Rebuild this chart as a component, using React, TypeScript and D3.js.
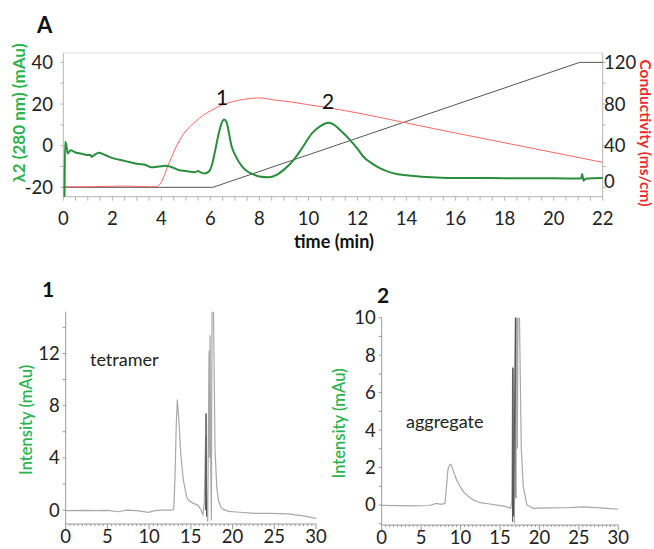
import React from "react";
import * as d3 from "d3";

// top chromatogram (ion exchange run)
const timeTicks = [0, 2, 4, 6, 8, 10, 12, 14, 16, 18, 20, 22];
const uvTicks = [-20, 0, 20, 40];
const condTicks = [0, 40, 80, 120];

// λ2 280 nm trace, mAu
const uvTrace: [number, number][] = [
  [0.05, -24.5], [0.07, 1.9], [0.12, 0.5], [0.18, -3.7], [0.3, -2.2], [0.5, -3.3], [0.8, -4.0],
  [1.0, -4.5], [1.1, -4.4], [1.15, -5.3], [1.25, -4.6], [1.45, -3.4], [1.7, -4.5], [2.05, -6.1],
  [2.5, -7.3], [3.05, -8.8], [3.3, -9.0], [3.6, -10.4], [3.9, -10.0], [4.15, -9.6], [4.4, -10.2],
  [4.7, -11.7], [5.0, -12.2], [5.38, -12.7], [5.5, -12.1], [5.6, -12.8], [5.78, -13.3], [5.95, -12.3],
  [6.06, -9.3], [6.2, -2], [6.35, 6.5], [6.5, 12.0], [6.56, 12.6], [6.65, 11.5], [6.87, -0.5],
  [7.05, -5.5], [7.28, -9.8], [7.5, -12.3], [7.76, -13.8], [8.0, -14.8], [8.37, -15.2], [8.7, -14],
  [9.0, -11.5], [9.39, -6.9], [9.75, -1], [10.14, 5.9], [10.5, 9.5], [10.82, 11.0], [11.05, 10],
  [11.29, 7.5], [11.7, 2.7], [12.0, -1.5], [12.24, -5.3], [12.6, -8.6], [12.93, -10.9], [13.3, -12.7],
  [13.6, -13.6], [14.0, -14.2], [14.3, -14.6], [15.0, -15.2], [15.4, -15.4], [16, -15.5], [17, -15.5],
  [18, -15.6], [19, -15.6], [20, -15.7], [21.0, -15.8], [21.12, -15.6], [21.16, -13.6], [21.22, -16.8],
  [21.3, -15.9], [21.6, -15.6], [22, -15.5],
];

// conductivity, ms/cm
const condTrace: [number, number][] = [
  [0, 0.5], [1, 0.6], [2, 1.0], [2.5, 1.2], [3, 0.9], [3.5, 0.6], [3.8, 0.7], [4.0, 5], [4.15, 13.4],
  [4.42, 29.4], [4.83, 48.6], [5.38, 63], [6.06, 74.2], [6.87, 82.1], [7.4, 84.6], [7.96, 85.9],
  [8.57, 84], [9.25, 82.1], [9.93, 79.6], [10.82, 76.4], [15.37, 55.1], [22, 24],
];

// gradient programme (right axis units)
const gradientTrace: [number, number][] = [[0, 0], [6.1, 0], [21.06, 120], [22, 120]];

// SEC of fraction 1 and 2
const secTimeTicks = [0, 5, 10, 15, 20, 25, 30];
const sec1Ticks = [0, 4, 8, 12];
const sec2Ticks = [0, 2, 4, 6, 8, 10];

const sec1Trace: [number, number][] = [
  [0, -0.05], [2, -0.03], [3.9, -0.05], [5, -0.02], [6.3, -0.13], [7.3, 0], [8.5, -0.05], [9.9, -0.18],
  [10.7, -0.05], [11.5, 0], [12.7, 0], [12.95, 0.05], [13.1, 2.5], [13.25, 6.5], [13.38, 8.47],
  [13.55, 7], [13.8, 4.2], [14.1, 2.3], [14.5, 1.0], [14.7, 0.77], [15.2, 0.55], [15.9, 0.35],
  [16.2, 0], [16.45, -0.35], [16.6, 0.5], [16.78, 5.7], [16.9, 0.5], [17.02, -0.9], [17.18, 12.2],
  [17.24, 4], [17.3, 13.4], [17.38, 4.1], [17.46, -0.8], [17.54, 16], [17.7, 16], [17.9, 4.6],
  [18.1, 1.8], [18.3, 0.77], [18.6, 0.2], [18.9, 0.05], [19.5, -0.1], [20.5, -0.15], [22.7, -0.25],
  [24.5, -0.25], [26.7, -0.3], [28.5, -0.45], [30, -0.64],
];
const sec1Spike: [number, number][] = [[16.76, 0], [16.82, 7.4], [16.88, -0.5]];

const sec2Trace: [number, number][] = [
  [0, -0.02], [2, -0.04], [4, -0.05], [6, -0.03], [6.97, 0.08], [7.3, 0.05], [7.7, 0.05], [8.02, 0.09],
  [8.2, 0.9], [8.4, 1.9], [8.66, 2.17], [8.8, 2.15], [9.1, 1.8], [9.5, 1.33], [10.0, 0.95], [10.34, 0.71],
  [11.0, 0.45], [11.6, 0.27], [12.5, 0.12], [13.7, 0.05], [14.8, -0.02], [15.8, -0.09], [16.35, -0.18],
  [16.5, 0.2], [16.6, 7.38], [16.7, 0.5], [16.82, -0.98], [16.95, 10.5], [17.1, 10.5], [17.2, 3],
  [17.28, 10.5], [17.45, 10.5], [17.7, 3], [17.95, 0.98], [18.4, 0], [19.2, -0.18], [21, -0.16],
  [23.9, -0.14], [25.5, -0.1], [27.2, -0.14], [28.5, -0.18], [30, -0.23],
];
const sec2Spike: [number, number][] = [[16.58, -0.9], [16.64, 7.3], [16.72, -0.6], [16.98, 10.5], [17.02, 0.36]];

const FONT = "Lato, 'Open Sans', sans-serif";
const GREEN_TXT = "#2cb34f";
const RED_TXT = "#ec2a2e";
const AXIS = "#b4b4b4";

function TopChart() {
  const x = d3.scaleLinear().domain([0, 22]).range([63.3, 602.7]);
  const yL = d3.scaleLinear().domain([-24.5, 44.5]).range([196.7, 53]);
  const yR = d3.scaleLinear().domain([-9, 129]).range([196.7, 53]);
  const lineL = d3.line<[number, number]>().x(d => x(d[0])).y(d => yL(d[1])).curve(d3.curveMonotoneX);
  const lineR = d3.line<[number, number]>().x(d => x(d[0])).y(d => yR(d[1])).curve(d3.curveMonotoneX);
  const lineG = d3.line<[number, number]>().x(d => x(d[0])).y(d => yR(d[1]));
  const minorX = d3.range(0, 22.01, 0.5);
  const minorL = d3.range(-20, 41, 10);
  const minorR = d3.range(0, 121, 20);
  const [x0, x1] = x.range();
  const [yb, yt] = yL.range();
  return (
    <g>
      <text x={37} y={33} fontFamily={FONT} fontWeight={700} fontSize={22} fill="#111">A</text>
      <line x1={x0} x2={x1} y1={yt} y2={yt} stroke="#dcdcdc" />
      <line x1={x0} x2={x0} y1={yt} y2={yb} stroke={AXIS} />
      <line x1={x1} x2={x1} y1={yt} y2={yb} stroke={AXIS} />
      <line x1={x0} x2={x1} y1={yb} y2={yb} stroke={AXIS} />
      {minorX.map(t => <line key={"mx" + t} x1={x(t)} x2={x(t)} y1={yb} y2={yb + 4} stroke={AXIS} />)}
      {minorL.map(v => <line key={"ml" + v} x1={x0 - 3} x2={x0} y1={yL(v)} y2={yL(v)} stroke={AXIS} />)}
      {minorR.map(v => <line key={"mr" + v} x1={x1} x2={x1 + 3} y1={yR(v)} y2={yR(v)} stroke={AXIS} />)}
      {timeTicks.map(t => (
        <text key={"tx" + t} x={x(t)} y={225} textAnchor="middle" fontFamily={FONT} fontSize={18.5} fill="#222">{t}</text>
      ))}
      {uvTicks.map(v => (
        <text key={"tl" + v} x={53} y={yL(v) + 6.5} textAnchor="end" fontFamily={FONT} fontSize={18.5} fill="#222">{v}</text>
      ))}
      {condTicks.map(v => (
        <text key={"tr" + v} x={604} y={yR(v) + (v === 0 ? 0.5 : 6.5)} fontFamily={FONT} fontSize={18.5} fill="#222">{v}</text>
      ))}
      <text x={334} y={248} textAnchor="middle" fontFamily={FONT} fontWeight={700} fontSize={18} fill="#111">time (min)</text>
      <text transform="translate(25,113) rotate(-90)" textAnchor="middle" fontFamily={FONT} fontWeight={700} fontSize={17} fill={GREEN_TXT}>λ2 (280 nm) (mAu)</text>
      <text transform="translate(640,133) rotate(90)" textAnchor="middle" fontFamily={FONT} fontWeight={700} fontSize={15.5} fill={RED_TXT}>Conductivity (ms/cm)</text>
      <path d={lineG(gradientTrace) ?? ""} fill="none" stroke="#555" strokeWidth={1} />
      <path d={lineR(condTrace) ?? ""} fill="none" stroke="#ff6565" strokeWidth={1} />
      <path d={lineL(uvTrace) ?? ""} fill="none" stroke="#2a8d3c" strokeWidth={2} />
      <text x={222} y={105} textAnchor="middle" fontFamily={FONT} fontSize={21} fill="#111">1</text>
      <text x={328} y={109} textAnchor="middle" fontFamily={FONT} fontSize={21} fill="#111">2</text>
    </g>
  );
}

type SecProps = {
  id: string;
  label: string;
  labelX: number;
  labelY: number;
  peakLabel: string;
  peakX: number;
  peakY: number;
  xRange: [number, number];
  yRange: [number, number];
  yDomain: [number, number];
  yTicks: number[];
  yMinorStep: number;
  trace: [number, number][];
  spike: [number, number][];
  titleX: number;
};

function SecPanel(p: SecProps) {
  const x = d3.scaleLinear().domain([0, 30]).range(p.xRange);
  const y = d3.scaleLinear().domain(p.yDomain).range(p.yRange);
  const line = d3.line<[number, number]>().x(d => x(d[0])).y(d => y(d[1]));
  const [x0, x1] = p.xRange;
  const [yb, yt] = p.yRange;
  const minorX = d3.range(0, 30.01, 0.5);
  const minorY = d3.range(Math.ceil(p.yDomain[0] / p.yMinorStep) * p.yMinorStep, p.yDomain[1] + 0.001, p.yMinorStep);
  return (
    <g>
      <defs>
        <clipPath id={p.id}>
          <rect x={x0} y={yt} width={x1 - x0 + 2} height={yb - yt} />
        </clipPath>
      </defs>
      <text x={p.titleX} y={p.labelY} fontFamily={FONT} fontWeight={700} fontSize={21} fill="#111">{p.label}</text>
      <line x1={x0} x2={x0} y1={yt} y2={yb} stroke="#999" />
      <line x1={x0} x2={x1} y1={yb} y2={yb} stroke="#999" />
      {minorX.map(t => (
        <line key={"sx" + t} x1={x(t)} x2={x(t)} y1={yb} y2={yb + (t % 5 === 0 ? 5 : 2)} stroke="#999" />
      ))}
      {minorY.map(v => <line key={"sy" + v} x1={x0 - 3} x2={x0} y1={y(v)} y2={y(v)} stroke="#999" />)}
      {secTimeTicks.map(t => (
        <text key={"stx" + t} x={x(t)} y={yb + 19} textAnchor="middle" fontFamily={FONT} fontSize={18.5} fill="#222">{t}</text>
      ))}
      {p.yTicks.map(v => (
        <text key={"sty" + v} x={x0 - 6} y={y(v) + 6.5} textAnchor="end" fontFamily={FONT} fontSize={18.5} fill="#222">{v}</text>
      ))}
      <text transform={`translate(${p.labelX},${(yt + yb) / 2 + 2}) rotate(-90)`} textAnchor="middle" fontFamily={FONT} fontSize={16.5} fontWeight={600} fill={GREEN_TXT}>Intensity (mAu)</text>
      <text x={p.peakX} y={p.peakY} fontFamily={FONT} fontSize={18} fill="#222">{p.peakLabel}</text>
      <g clipPath={`url(#${p.id})`}>
        <path d={line(p.trace) ?? ""} fill="none" stroke="#a8a8a8" strokeWidth={1.2} />
        <path d={line(p.spike) ?? ""} fill="none" stroke="#555" strokeWidth={1} />
      </g>
    </g>
  );
}

export default function App() {
  return (
    <svg width={654} height={549} style={{ position: "absolute", left: 0, top: 0, background: "#fff" }}>
      <rect width={654} height={549} fill="#fff" />
      <TopChart />
      <SecPanel
        id="sec1" label="1" titleX={42} labelX={32} labelY={297}
        peakLabel="tetramer" peakX={90} peakY={366}
        xRange={[65.7, 316]} yRange={[524, 311.7]} yDomain={[-1.07, 15.2]}
        yTicks={sec1Ticks} yMinorStep={2} trace={sec1Trace} spike={sec1Spike}
      />
      <SecPanel
        id="sec2" label="2" titleX={377} labelX={345} labelY={303}
        peakLabel="aggregate" peakX={406} peakY={428}
        xRange={[381.7, 618.3]} yRange={[525, 317.7]} yDomain={[-1.07, 10]}
        yTicks={sec2Ticks} yMinorStep={1} trace={sec2Trace} spike={sec2Spike}
      />
    </svg>
  );
}
